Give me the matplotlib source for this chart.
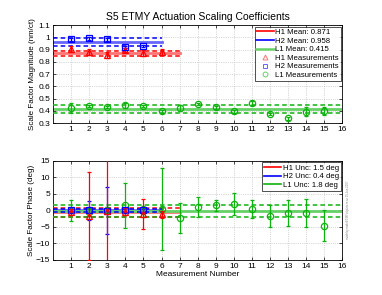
import numpy as np
import matplotlib
matplotlib.use("Agg")
import matplotlib.pyplot as plt
from matplotlib.lines import Line2D

plt.rcParams['font.family'] = ['Liberation Sans', 'DejaVu Sans']

# -------------------------
# DATA
# -------------------------
ifos = ['H1', 'H2', 'L1']
markers = ['^', 's', 'o']

# magnitude (nm/ct)
h1_mag = [0.901, 0.877, 0.855, 0.896, 0.869, 0.877]
h1_mag_err = [0.025, 0.025, 0.025, 0.02, 0.025, 0.025]
h2_mag = [0.983, 0.991, 0.983, 0.923, 0.931]
h2_mag_err = [0.012, 0.015, 0.015, 0.008, 0.008]
l1_mag = [0.422, 0.439, 0.433, 0.444, 0.439, 0.395, 0.425, 0.455,
          0.428, 0.395, 0.466, 0.373, 0.338, 0.392, 0.398]
l1_mag_err = [0.04, 0.01, 0.01, 0.02, 0.01, 0.01, 0.025, 0.01,
              0.01, 0.01, 0.015, 0.01, 0.01, 0.035, 0.03]
mag_mean = [0.871, 0.958, 0.415]
mag_band = [0.021, 0.033, 0.034]

# phase (deg)
h1_ph = [-0.5, -1.7, -0.3, -0.4, -1.0, -1.2]
h1_ph_err = [0.8, 13.4, 20.0, 1.0, 4.5, 1.0]
h2_ph = [0.1, 0.0, -0.1, 0.1, 0.0]
h2_ph_err = [0.3, 2.9, 7.1, 0.5, 0.4]
l1_ph = [0.0, -0.4, 0.1, 1.6, -0.3, 0.5, -2.4, 1.0, 1.5, 1.9, 0.45,
         -1.7, -0.9, -0.8, -4.6]
l1_ph_err = [3.1, 1.2, 0.8, 6.8, 1.6, 12.4, 4.6, 3.1, 1.7, 3.4, 2.8,
             3.2, 3.9, 4.1, 4.8]
ph_mean = [-0.65, 0.0, -0.2]
ph_unc = [1.5, 0.4, 1.8]

mags = [h1_mag, h2_mag, l1_mag]
mag_errs = [h1_mag_err, h2_mag_err, l1_mag_err]
phs = [h1_ph, h2_ph, l1_ph]
ph_errs = [h1_ph_err, h2_ph_err, l1_ph_err]

dark = [(1, 0, 0), (0, 0, 1), (0.05, 0.7, 0.05)]
light = [(1, 0.45, 0.45), (0.4, 0.4, 1), (0.4, 0.82, 0.4)]

fig = plt.figure(figsize=(3.82, 2.95), dpi=100)
ax1 = fig.add_axes([0.139, 0.583, 0.757, 0.332])
ax2 = fig.add_axes([0.139, 0.119, 0.757, 0.336])


def style(ax, ylim, yticks, ylabels):
    ax.set_xlim(0, 16)
    ax.set_xticks(range(1, 17))
    ax.set_ylim(*ylim)
    ax.set_yticks(yticks)
    ax.set_yticklabels(ylabels)
    ax.tick_params(direction='in', labelsize=6, length=2, width=0.5,
                   top=True, right=True, pad=2)
    ax.grid(True, linestyle=':', color='0.7', linewidth=0.5)
    for s in ax.spines.values():
        s.set_linewidth(0.6)


# -------------------------
# MAGNITUDE
# -------------------------
for i in range(3):
    n = len(mags[i])
    x = np.arange(1, n + 1)
    ax1.plot([0, n + 1], [mag_mean[i]] * 2, color=light[i], lw=2, zorder=2)
    for sgn in (1, -1):
        ax1.plot([0, n + 1], [mag_mean[i] + sgn * mag_band[i]] * 2,
                 color=dark[i], lw=1.1, ls=(0, (3, 2)), zorder=3)
    ax1.errorbar(x, mags[i], yerr=mag_errs[i], fmt=markers[i], color=dark[i],
                 mfc='none', ms=4.5, mew=0.9, elinewidth=0.9, capsize=1.5,
                 zorder=4)

style(ax1, (0.3, 1.1), np.arange(0.3, 1.11, 0.1),
      ['0.3', '0.4', '0.5', '0.6', '0.7', '0.8', '0.9', '1', '1.1'])
ax1.set_ylabel('Scale Factor Magnitude (nm/ct)', fontsize=5.8, labelpad=2)
ax1.set_title('S5 ETMY Actuation Scaling Coefficients', fontsize=7.5, pad=4)

h_top = [Line2D([], [], color=dark[i], lw=1.2,
                label='%s Mean: %.3f' % (ifos[i], mag_mean[i])) for i in range(3)]
h_top[2].set_color(light[2])
h_top[2].set_linewidth(1.8)
h_top += [Line2D([], [], ls='none', marker=markers[i], mfc='none', mec=light[i],
                 ms=3.5, mew=0.7, label='%s Measurements' % ifos[i]) for i in range(3)]
leg = ax1.legend(handles=h_top, loc='upper right', fontsize=5.6, frameon=True,
                 fancybox=False, edgecolor='k', handlelength=2.2,
                 handletextpad=0.2, borderpad=0.25, labelspacing=0.15,
                 borderaxespad=0.2)
leg.get_frame().set_linewidth(0.6)

# -------------------------
# PHASE
# -------------------------
for i in range(3):
    n = len(phs[i])
    x = np.arange(1, n + 1)
    ax2.plot([0, n + 1], [ph_mean[i]] * 2, color=light[i], lw=2, zorder=2)
    for sgn in (1, -1):
        ax2.plot([0, n + 1], [ph_mean[i] + sgn * ph_unc[i]] * 2,
                 color=dark[i], lw=1.1, ls=(0, (3, 2)), zorder=3)
    ax2.errorbar(x, phs[i], yerr=ph_errs[i], fmt=markers[i], color=dark[i],
                 mfc='none', ms=4.5, mew=0.9, elinewidth=0.9, capsize=1.5,
                 zorder=4 - i * 0.1)

style(ax2, (-15, 15), [-15, -10, -5, 0, 5, 10, 15],
      ['\u221215', '\u221210', '\u22125', '0', '5', '10', '15'])
ax2.set_ylabel('Scale Factor Phase (deg)', fontsize=5.8, labelpad=1)
ax2.set_xlabel('Measurement Number', fontsize=6, labelpad=1)

h_bot = [Line2D([], [], color=dark[i], lw=1.2,
                label='%s Unc: %.1f deg' % (ifos[i], ph_unc[i])) for i in range(3)]
leg2 = ax2.legend(handles=h_bot, loc='upper right', fontsize=5.6, frameon=True,
                  fancybox=False, edgecolor='k', handlelength=2.2,
                  handletextpad=0.2, borderpad=0.25, labelspacing=0.15,
                  borderaxespad=0.2)
leg2.get_frame().set_linewidth(0.6)

fig.text(0.905, 0.29, 'made by makeETMYcalplots.m on 15-Jun-2007',
         rotation=90, fontsize=2, color='0.5', ha='left', va='center')

fig.savefig('out.png', dpi=100)
